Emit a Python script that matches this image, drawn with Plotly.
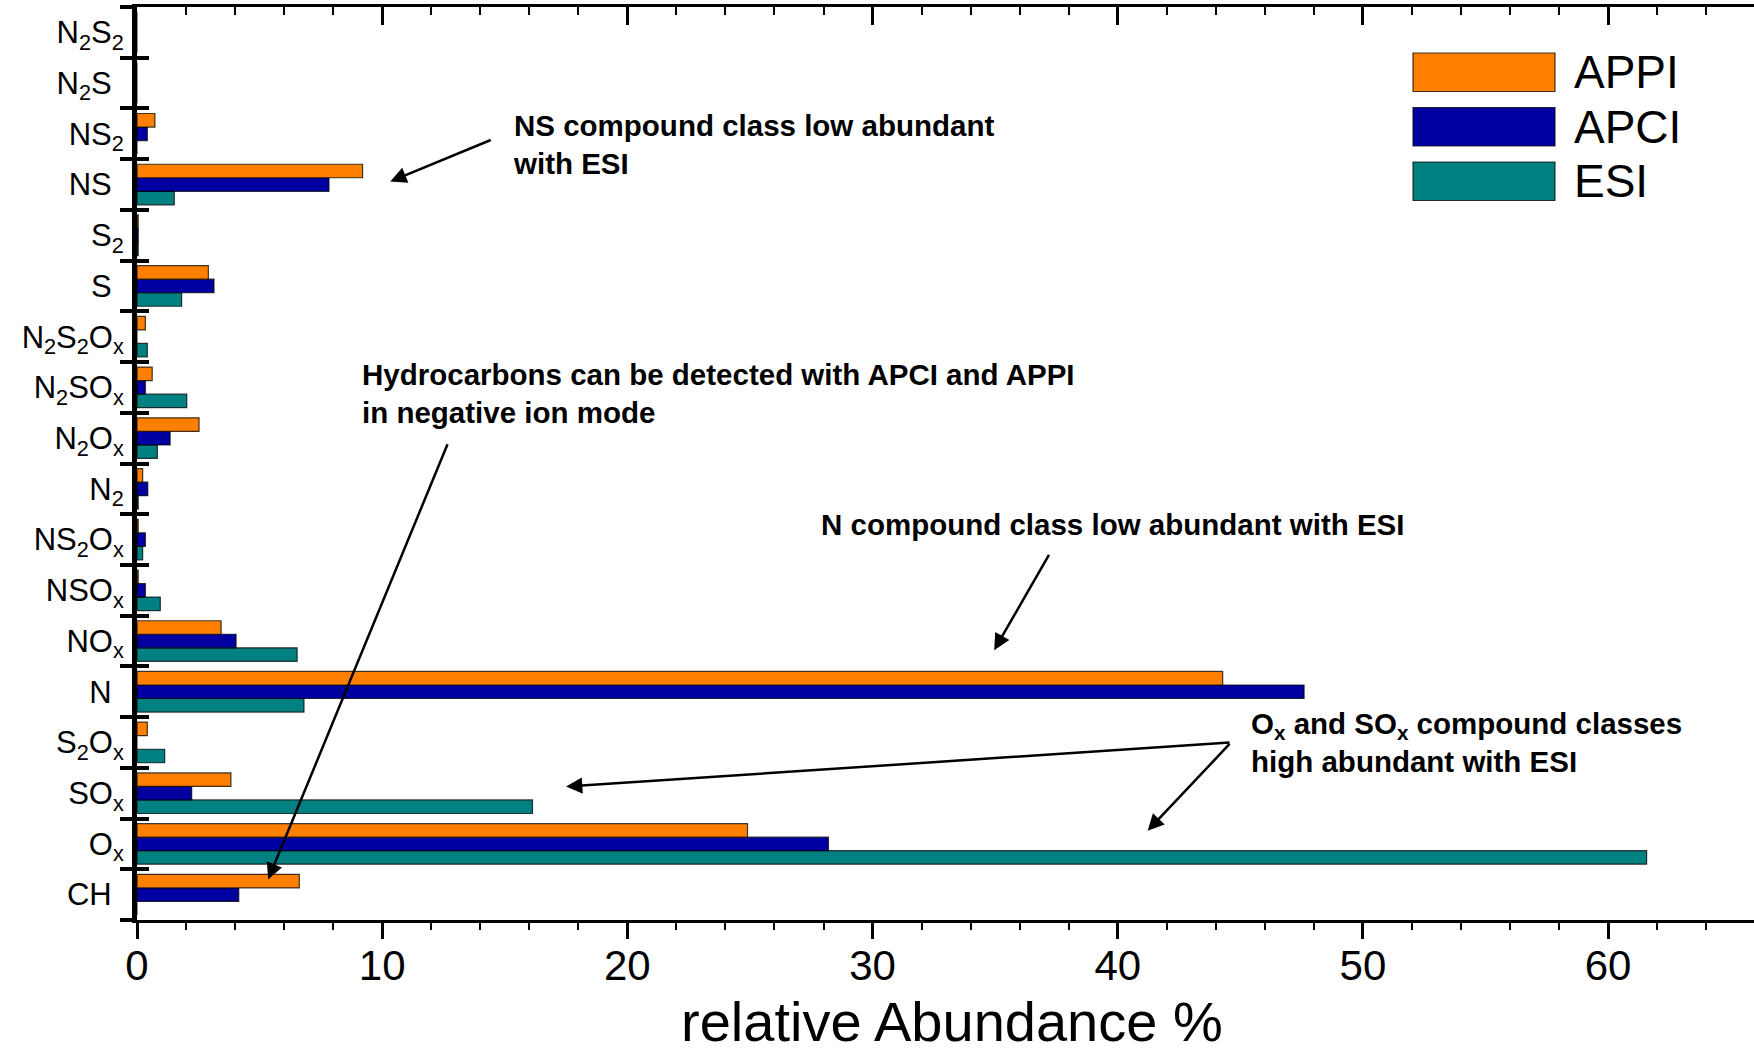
import plotly.graph_objects as go

# Compound classes, bottom to top (subscripts as HTML)
PAD = "<sub>\u00a0\u00a0</sub>"
classes = [
    "CH" + PAD,
    "O<sub>x</sub>",
    "SO<sub>x</sub>",
    "S<sub>2</sub>O<sub>x</sub>",
    "N" + PAD,
    "NO<sub>x</sub>",
    "NSO<sub>x</sub>",
    "NS<sub>2</sub>O<sub>x</sub>",
    "N<sub>2</sub>",
    "N<sub>2</sub>O<sub>x</sub>",
    "N<sub>2</sub>SO<sub>x</sub>",
    "N<sub>2</sub>S<sub>2</sub>O<sub>x</sub>",
    "S" + PAD,
    "S<sub>2</sub>",
    "NS" + PAD,
    "NS<sub>2</sub>",
    "N<sub>2</sub>S" + PAD,
    "N<sub>2</sub>S<sub>2</sub>",
]

# Relative abundance (%) per ionisation technique, same order as classes
appi = [6.62, 24.9, 3.83, 0.42, 44.28, 3.43, 0.05, 0.05, 0.23, 2.53, 0.62, 0.34, 2.91, 0.05, 9.2, 0.73, 0.0, 0.0]
apci = [4.15, 28.2, 2.23, 0.0, 47.6, 4.04, 0.34, 0.34, 0.44, 1.35, 0.34, 0.0, 3.14, 0.05, 7.83, 0.42, 0.0, 0.0]
esi = [0.0, 61.57, 16.13, 1.13, 6.81, 6.53, 0.95, 0.23, 0.05, 0.83, 2.03, 0.42, 1.82, 0.05, 1.52, 0.0, 0.0, 0.0]

series_names = ["APPI", "APCI", "ESI"]
series_values = [appi, apci, esi]
series_colors = ["#FF8000", "#0000A0", "#008080"]

FONT = "Liberation Sans, Arial, sans-serif"
W, H = 1754, 1054
PLOT_L, PLOT_R, PLOT_T, PLOT_B = 137, 1754, 7, 920
X_MAX = 65.95

fig = go.Figure()

# Horizontal grouped bars: the last trace sits on top of each group
for name, vals, col in reversed(list(zip(series_names, series_values, series_colors))):
    fig.add_trace(go.Bar(
        y=classes, x=vals, name=name, orientation="h",
        marker=dict(color=col, line=dict(color="rgba(0,0,0,0.75)", width=1.2)),
        showlegend=False,
    ))

# Empty helper trace so the top axis and the inner y ticks get drawn
fig.add_trace(go.Scatter(
    x=[None], y=[None], xaxis="x2", yaxis="y2", mode="markers",
    showlegend=False, hoverinfo="skip",
))

fig.update_layout(
    width=W, height=H,
    margin=dict(l=PLOT_L, r=W - PLOT_R, t=PLOT_T, b=H - PLOT_B),
    paper_bgcolor="white", plot_bgcolor="white",
    barmode="group", bargap=0.2, bargroupgap=0.0,
    font=dict(family=FONT, color="black"),
    showlegend=False,
    xaxis=dict(
        range=[0, X_MAX], dtick=10, tick0=0, automargin=False,
        showgrid=False, zeroline=False,
        showline=True, linecolor="black", linewidth=3.3,
        ticks="outside", ticklen=16, tickwidth=3, tickcolor="black",
        minor=dict(dtick=2, ticks="outside", ticklen=7, tickwidth=2, tickcolor="black", showgrid=False),
        tickfont=dict(size=42, family=FONT),
        ticklabelstandoff=-10,
    ),
    xaxis2=dict(
        overlaying="x", side="top", anchor="y",
        range=[0, X_MAX], dtick=10, tick0=0, automargin=False,
        showgrid=False, zeroline=False, showticklabels=False,
        showline=True, linecolor="black", linewidth=3,
        ticks="inside", ticklen=18, tickwidth=3, tickcolor="black",
        minor=dict(dtick=2, ticks="inside", ticklen=8, tickwidth=2, tickcolor="black", showgrid=False),
    ),
    yaxis=dict(
        type="category", categoryorder="array", categoryarray=classes,
        range=[-0.5, len(classes) - 0.5], automargin=False,
        showgrid=False, zeroline=False,
        showline=True, linecolor="black", linewidth=5,
        ticks="outside", tickson="boundaries", ticklen=12, tickwidth=3.5, tickcolor="black",
        tickfont=dict(size=31, family=FONT),
        ticklabelstandoff=2,
    ),
    yaxis2=dict(
        overlaying="y", side="left", anchor="x",
        range=[-0.5, len(classes) - 0.5], tick0=-0.5, dtick=1, automargin=False,
        showgrid=False, zeroline=False, showticklabels=False, showline=False,
        ticks="inside", ticklen=12, tickwidth=3.5, tickcolor="black",
    ),
)

def paper_x(px):
    return (px - PLOT_L) / (PLOT_R - PLOT_L)

def paper_y(py):
    return (PLOT_B - py) / (PLOT_B - PLOT_T)

# Axis title placed low in the bottom margin
fig.add_annotation(
    xref="paper", yref="paper", x=paper_x(952), y=paper_y(1021),
    xanchor="center", yanchor="middle", showarrow=False,
    text="relative Abundance %", font=dict(size=56, family=FONT, color="black"),
)

# Legend drawn as large swatches in the upper right corner
LEG_X0, LEG_X1 = 1413, 1555
LEG_TOP, LEG_H, LEG_STEP = 53, 38.5, 54.5
LEG_TEXT_X = 1572
for i, (name, col) in enumerate(zip(series_names, series_colors)):
    top = LEG_TOP + i * LEG_STEP
    fig.add_shape(
        type="rect", xref="paper", yref="paper",
        x0=paper_x(LEG_X0), x1=paper_x(LEG_X1),
        y0=paper_y(top + LEG_H), y1=paper_y(top),
        fillcolor=col, line=dict(color="rgba(0,0,0,0.75)", width=1.2),
    )
    fig.add_annotation(
        xref="paper", yref="paper",
        x=paper_x(LEG_TEXT_X), y=paper_y(top + LEG_H / 2),
        xanchor="left", yanchor="middle", showarrow=False,
        text=name, font=dict(size=46, family=FONT, color="black"),
    )

# Explanatory notes (positions in axis units)
notes = [
    dict(x=15.24, y=14.78, text="<b>NS compound class low abundant<br>with ESI</b>"),
    dict(x=9.09, y=9.88, text="<b>Hydrocarbons can be detected with APCI and APPI<br>in negative ion mode</b>"),
    dict(x=27.8, y=7.29, text="<b>N compound class low abundant with ESI</b>"),
    dict(x=45.36, y=2.99, text="<b>O<sub>x</sub> and SO<sub>x</sub> compound classes<br>high abundant with ESI</b>"),
]
for n in notes:
    fig.add_annotation(
        xref="x", yref="y", x=n["x"], y=n["y"], text=n["text"],
        xanchor="left", yanchor="middle", align="left", showarrow=False,
        font=dict(size=29.5, family=FONT, color="black"),
    )

# Arrows: (tail x, tail y) -> (head x, head y)
arrows = [
    (14.49, 14.89, 10.33, 14.06),
    (12.69, 8.91, 5.35, 0.30),
    (37.23, 6.73, 34.96, 4.82),
    (44.62, 3.00, 17.50, 2.13),
    (44.62, 3.00, 41.22, 1.26),
]
for ax_, ay_, hx, hy in arrows:
    fig.add_annotation(
        xref="x", yref="y", axref="x", ayref="y",
        x=hx, y=hy, ax=ax_, ay=ay_, text="",
        showarrow=True, arrowhead=2, arrowsize=1.3, arrowwidth=2.5,
        arrowcolor="black", standoff=0, startstandoff=0,
    )

fig.write_html("out.html")
